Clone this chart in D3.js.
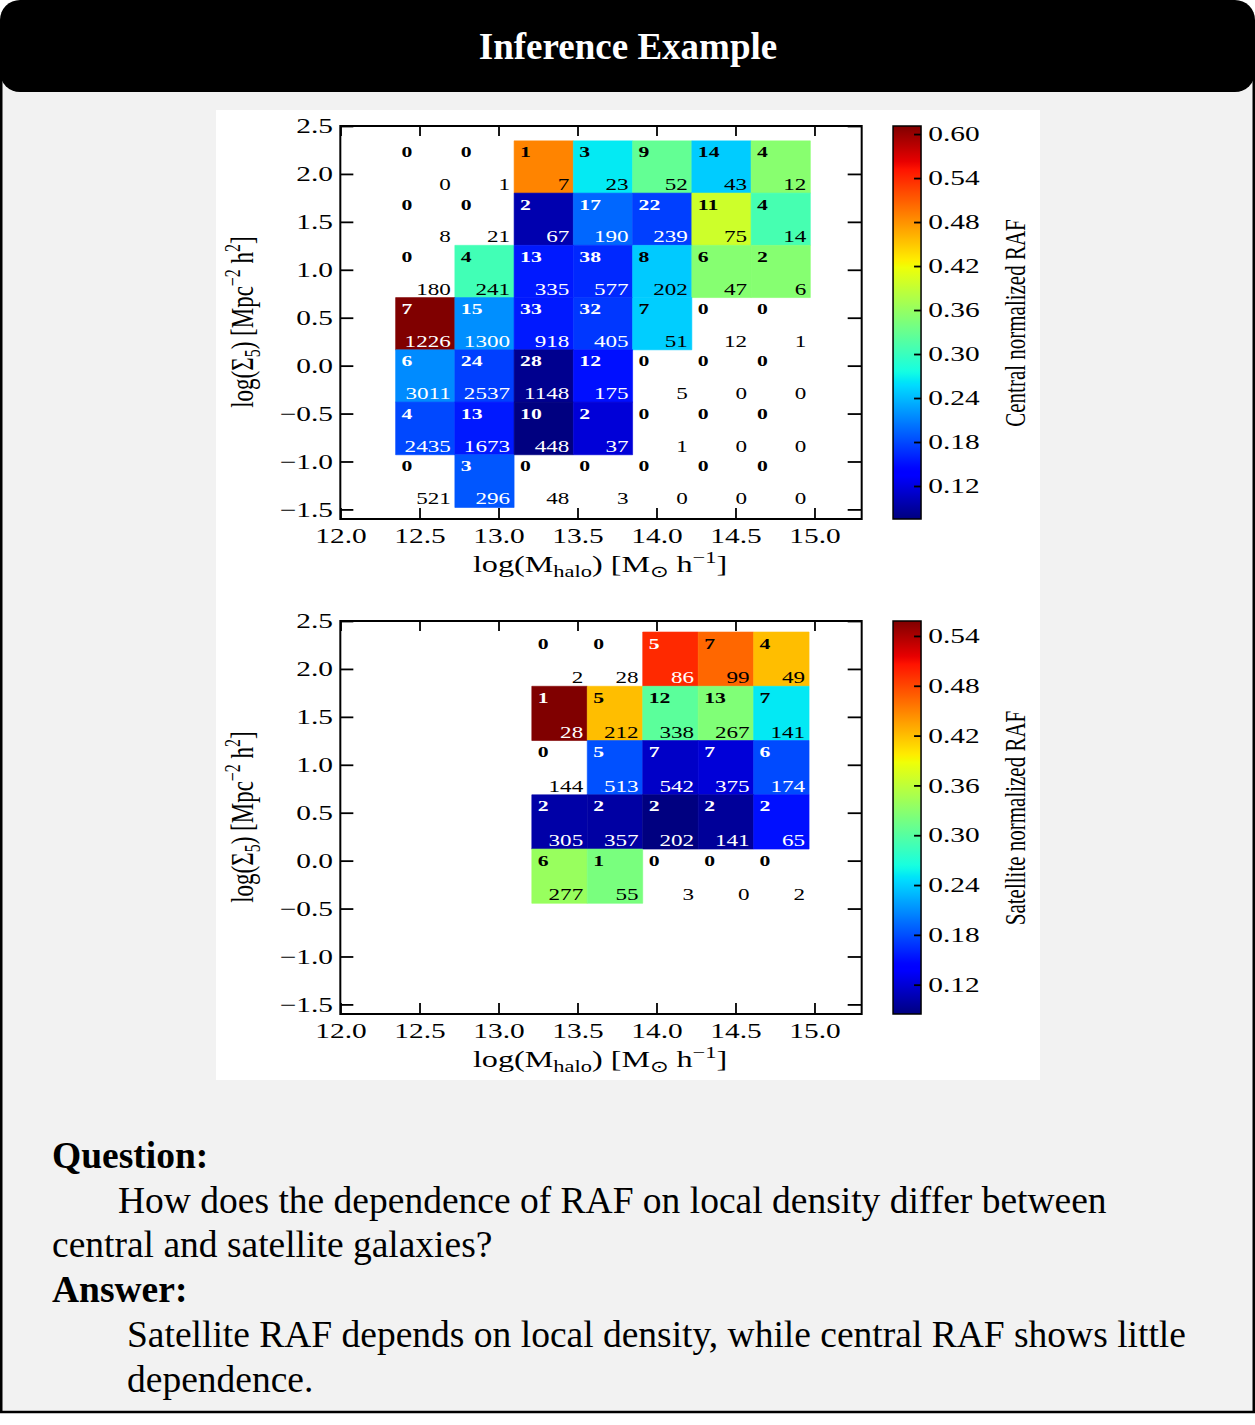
<!DOCTYPE html>
<html>
<head>
<meta charset="utf-8">
<script src="https://cdn.jsdelivr.net/npm/d3@7"></script>
<style>
    body { margin: 0; background: #fff; }
    svg { display: block; }
    .panel path, .panel line, .panel rect { vector-effect: non-scaling-stroke; }
</style>
</head>
<body>
<svg id="page" width="1255" height="1425"></svg>
<script>
/****** Data *******/
const xTicks = [12.0, 12.5, 13.0, 13.5, 14.0, 14.5, 15.0];
const yTicks = [-1.5, -1.0, -0.5, 0.0, 0.5, 1.0, 1.5, 2.0, 2.5];
const xDomain = [12.0, 15.3];
const yDomain = [-1.6, 2.5];

/** Central galaxies (rows: highest density first) **/
const centralMassEdges = [12.35, 12.725, 13.1, 13.475, 13.85, 14.225, 14.6, 14.975];
const centralDensEdges = [2.345, 1.80, 1.255, 0.71, 0.165, -0.38, -0.93, -1.48];
const centralAgn = [
    [0, 0, 1, 3, 9, 14, 4],
    [0, 0, 2, 17, 22, 11, 4],
    [0, 4, 13, 38, 8, 6, 2],
    [7, 15, 33, 32, 7, 0, 0],
    [6, 24, 28, 12, 0, 0, 0],
    [4, 13, 10, 2, 0, 0, 0],
    [0, 3, 0, 0, 0, 0, 0]
];
const centralTotal = [
    [0, 1, 7, 23, 52, 43, 12],
    [8, 21, 67, 190, 239, 75, 14],
    [180, 241, 335, 577, 202, 47, 6],
    [1226, 1300, 918, 405, 51, 12, 1],
    [3011, 2537, 1148, 175, 5, 0, 0],
    [2435, 1673, 448, 37, 1, 0, 0],
    [521, 296, 48, 3, 0, 0, 0]
];
const centralRaf = [
    [null, null, 0.488, 0.265, 0.327, 0.249, 0.351],
    [null, null, 0.097, 0.196, 0.175, 0.396, 0.308],
    [null, 0.305, 0.155, 0.163, 0.248, 0.350, 0.350],
    [0.611, 0.217, 0.155, 0.171, 0.250, null, null],
    [0.215, 0.175, 0.082, 0.150, null, null, null],
    [0.180, 0.155, 0.075, 0.116, null, null, null],
    [null, 0.187, null, null, null, null, null]
];
const centralRafRange = [0.075, 0.611];
const centralRafTicks = [0.12, 0.18, 0.24, 0.30, 0.36, 0.42, 0.48, 0.54, 0.60];

/** Satellite galaxies **/
const satMassEdges = [13.212, 13.563, 13.914, 14.265, 14.616, 14.967];
const satDensEdges = [2.385, 1.819, 1.253, 0.687, 0.121, -0.445];
const satAgn = [
    [0, 0, 5, 7, 4],
    [1, 5, 12, 13, 7],
    [0, 5, 7, 7, 6],
    [2, 2, 2, 2, 2],
    [6, 1, 0, 0, 0]
];
const satTotal = [
    [2, 28, 86, 99, 49],
    [28, 212, 338, 267, 141],
    [144, 513, 542, 375, 174],
    [305, 357, 202, 141, 65],
    [277, 55, 3, 0, 2]
];
const satRaf = [
    [null, null, 0.495, 0.464, 0.420],
    [0.558, 0.420, 0.303, 0.324, 0.252],
    [null, 0.181, 0.114, 0.121, 0.178],
    [0.101, 0.099, 0.0847, 0.095, 0.151],
    [0.338, 0.320, null, null, null]
];
const satRafRange = [0.0847, 0.558];
const satRafTicks = [0.12, 0.18, 0.24, 0.30, 0.36, 0.42, 0.48, 0.54];

/****** Layout *******/
const stretch = 1.4;           // the figure is stretched horizontally
const serif = "'Liberation Serif', 'Times New Roman', serif";
const plotH = 393;

/** jet colormap (matplotlib segment data) **/
var jetR = d3.scaleLinear().domain([0, 0.35, 0.66, 0.89, 1]).range([0, 0, 1, 1, 0.5]).clamp(true);
var jetG = d3.scaleLinear().domain([0, 0.125, 0.375, 0.64, 0.91, 1]).range([0, 0, 1, 1, 0, 0]).clamp(true);
var jetB = d3.scaleLinear().domain([0, 0.11, 0.34, 0.65, 1]).range([0.5, 1, 1, 0, 0]).clamp(true);
function jet(t) {
    return d3.rgb(255 * jetR(t), 255 * jetG(t), 255 * jetB(t)).formatHex();
}

var svg = d3.select("#page");

/** Page frame **/
svg.append("rect")
    .attr("x", 1.25).attr("y", 30)
    .attr("width", 1252.5).attr("height", 1382)
    .attr("fill", "#f2f2f2")
    .attr("stroke", "#000")
    .attr("stroke-width", 2.5);

svg.append("rect")
    .attr("x", 0).attr("y", 0)
    .attr("width", 1255).attr("height", 92)
    .attr("rx", 20)
    .attr("fill", "#000");

svg.append("text")
    .attr("x", 628).attr("y", 59)
    .attr("text-anchor", "middle")
    .attr("font-family", serif)
    .attr("font-weight", "bold")
    .attr("font-size", 37)
    .attr("fill", "#fff")
    .text("Inference Example");

svg.append("rect")
    .attr("x", 216).attr("y", 110)
    .attr("width", 824).attr("height", 970)
    .attr("fill", "#fff");

/** Gradient for colorbars **/
var grad = svg.append("defs").append("linearGradient")
    .attr("id", "jetgrad")
    .attr("x1", 0).attr("y1", 1).attr("x2", 0).attr("y2", 0);
grad.selectAll("stop")
    .data(d3.range(0, 1.0001, 0.01))
    .enter().append("stop")
    .attr("offset", function (d) { return d; })
    .attr("stop-color", function (d) { return jet(d); });

/** One heat-map panel with its colorbar **/
function drawPanel(top, p) {
    var g = svg.append("g")
        .attr("class", "panel")
        .attr("transform", "translate(216,0) scale(" + stretch + ",1)");

    var x = d3.scaleLinear().domain(xDomain).range([88.8, 461.2]);
    var y = d3.scaleLinear().domain(yDomain).range([top + plotH, top]);
    var c = d3.scaleLinear().domain(p.range).range([0, 1]);
    var bottom = top + plotH;

    var cells = [];
    p.agn.forEach(function (row, i) {
        row.forEach(function (n, j) {
            cells.push({
                x0: p.mass[j], x1: p.mass[j + 1],
                y0: p.dens[i + 1], y1: p.dens[i],
                agn: n, total: p.total[i][j], raf: p.raf[i][j]
            });
        });
    });

    g.selectAll(".cell")
        .data(cells.filter(function (d) { return d.raf !== null; }))
        .enter().append("rect")
        .attr("class", "cell")
        .attr("x", function (d) { return x(d.x0); })
        .attr("y", function (d) { return y(d.y1); })
        .attr("width", function (d) { return x(d.x1) - x(d.x0); })
        .attr("height", function (d) { return y(d.y0) - y(d.y1); })
        .attr("fill", function (d) { return jet(c(d.raf)); })
        .attr("stroke", function (d) { return jet(c(d.raf)); })
        .attr("stroke-width", 0.6);

    function ink(d) {
        if (d.raf === null) return "#000";
        var t = c(d.raf);
        return (t < 0.3 || t > 0.83) ? "#fff" : "#000";
    }

    g.selectAll(".agn")
        .data(cells)
        .enter().append("text")
        .attr("class", "agn")
        .attr("x", function (d) { return x(d.x0) + 4.3; })
        .attr("y", function (d) { return y(d.y1) + 16.5; })
        .attr("font-family", serif)
        .attr("font-weight", "bold")
        .attr("font-size", 15.5)
        .attr("fill", ink)
        .text(function (d) { return d.agn; });

    g.selectAll(".tot")
        .data(cells)
        .enter().append("text")
        .attr("class", "tot")
        .attr("x", function (d) { return x(d.x1) - 2.9; })
        .attr("y", function (d) { return y(d.y0) - 3; })
        .attr("text-anchor", "end")
        .attr("font-family", serif)
        .attr("font-size", 16.5)
        .attr("fill", ink)
        .text(function (d) { return d.total; });

    /** axes, ticks pointing inwards **/
    function style(a) {
        a.select(".domain").remove();
        a.selectAll("line").attr("stroke", "#000").attr("stroke-width", 1.8);
        a.attr("font-family", serif).attr("font-size", 21);
    }
    var fmt = d3.format(".1f");

    g.append("g")
        .attr("transform", "translate(0," + bottom + ")")
        .call(d3.axisBottom(x).tickValues(xTicks).tickSizeInner(-11).tickSizeOuter(0)
            .tickPadding(9).tickFormat(fmt))
        .call(style);
    g.append("g")
        .attr("transform", "translate(0," + top + ")")
        .call(d3.axisTop(x).tickValues(xTicks).tickSizeInner(-10).tickSizeOuter(0)
            .tickFormat(function () { return ""; }))
        .call(style);
    g.append("g")
        .attr("transform", "translate(" + x(xDomain[0]) + ",0)")
        .call(d3.axisLeft(y).tickValues(yTicks).tickSizeInner(-9.3).tickSizeOuter(0)
            .tickPadding(5.2).tickFormat(fmt))
        .call(style);
    g.append("g")
        .attr("transform", "translate(" + x(xDomain[1]) + ",0)")
        .call(d3.axisRight(y).tickValues(yTicks).tickSizeInner(-10).tickSizeOuter(0)
            .tickFormat(function () { return ""; }))
        .call(style);

    g.append("rect")
        .attr("x", x(xDomain[0])).attr("y", top)
        .attr("width", x(xDomain[1]) - x(xDomain[0]))
        .attr("height", plotH)
        .attr("fill", "none")
        .attr("stroke", "#000")
        .attr("stroke-width", 2);

    /** axis labels **/
    var xl = g.append("text")
        .attr("x", 274.3).attr("y", top + 446)
        .attr("text-anchor", "middle")
        .attr("font-family", serif)
        .attr("font-size", 23);
    xl.append("tspan").text("log(M");
    xl.append("tspan").attr("dy", 5).attr("font-size", 16).text("halo");
    xl.append("tspan").attr("dy", -5).text(") [M");
    xl.append("tspan").attr("dy", 5).attr("font-size", 16).text("\u2299");
    xl.append("tspan").attr("dy", -5).text(" h");
    xl.append("tspan").attr("dy", -9).attr("font-size", 16).text("\u22121");
    xl.append("tspan").attr("dy", 9).text("]");

    var yl = g.append("text")
        .attr("transform", "translate(26.4," + (top + 196) + ") rotate(-90)")
        .attr("text-anchor", "middle")
        .attr("font-family", serif)
        .attr("font-size", 23);
    yl.append("tspan").text("log(\u03A3");
    yl.append("tspan").attr("dy", 5).attr("font-size", 16).text("5");
    yl.append("tspan").attr("dy", -5).text(") [Mpc");
    yl.append("tspan").attr("dy", -9).attr("font-size", 16).text("\u22122");
    yl.append("tspan").attr("dy", 9).text(" h");
    yl.append("tspan").attr("dy", -9).attr("font-size", 16).text("2");
    yl.append("tspan").attr("dy", 9).text("]");

    /** colorbar **/
    var cb = d3.scaleLinear().domain(p.range).range([bottom, top]);
    g.append("rect")
        .attr("x", 483.6).attr("y", top)
        .attr("width", 20).attr("height", plotH)
        .attr("fill", "url(#jetgrad)")
        .attr("stroke", "#000")
        .attr("stroke-width", 1.5);
    g.append("g")
        .attr("transform", "translate(503.6,0)")
        .call(d3.axisRight(cb).tickValues(p.ticks).tickSizeInner(-5).tickSizeOuter(0)
            .tickPadding(5.2).tickFormat(d3.format(".2f")))
        .call(style);

    g.append("text")
        .attr("transform", "translate(578," + (top + 197) + ") rotate(-90)")
        .attr("text-anchor", "middle")
        .attr("font-family", serif)
        .attr("font-size", 21)
        .text(p.label);
}

drawPanel(126, {
    mass: centralMassEdges, dens: centralDensEdges,
    agn: centralAgn, total: centralTotal, raf: centralRaf,
    range: centralRafRange, ticks: centralRafTicks,
    label: "Central normalized RAF"
});
drawPanel(621, {
    mass: satMassEdges, dens: satDensEdges,
    agn: satAgn, total: satTotal, raf: satRaf,
    range: satRafRange, ticks: satRafTicks,
    label: "Satellite normalized RAF"
});

/****** Question / answer text *******/
var qa = [
    {x: 52, y: 1168, bold: true, text: "Question:"},
    {x: 118, y: 1213, bold: false, text: "How does the dependence of RAF on local density differ between"},
    {x: 52, y: 1257, bold: false, text: "central and satellite galaxies?"},
    {x: 52, y: 1302, bold: true, text: "Answer:"},
    {x: 127, y: 1347, bold: false, text: "Satellite RAF depends on local density, while central RAF shows little"},
    {x: 127, y: 1392, bold: false, text: "dependence."}
];
svg.selectAll(".qa")
    .data(qa)
    .enter().append("text")
    .attr("class", "qa")
    .attr("x", function (d) { return d.x; })
    .attr("y", function (d) { return d.y; })
    .attr("font-family", serif)
    .attr("font-size", 37.5)
    .attr("font-weight", function (d) { return d.bold ? "bold" : "normal"; })
    .attr("fill", "#000")
    .text(function (d) { return d.text; });
</script>
</body>
</html>
